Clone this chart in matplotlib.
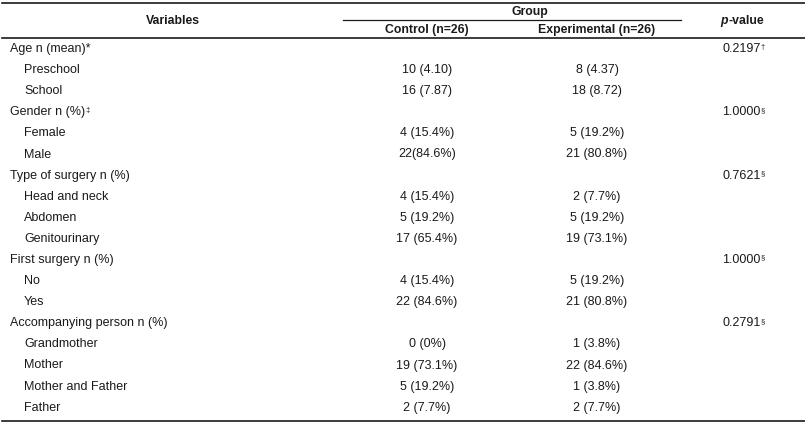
import matplotlib
matplotlib.use("Agg")
from matplotlib import pyplot as plt

plt.rcParams['font.family'] = ['Liberation Sans', 'DejaVu Sans']

# Filas de la tabla
labels = ["Age n (mean)*", "Preschool", "School",
          "Gender n (%)", "Female", "Male",
          "Type of surgery n (%)", "Head and neck", "Abdomen", "Genitourinary",
          "First surgery n (%)", "No", "Yes",
          "Accompanying person n (%)", "Grandmother", "Mother",
          "Mother and Father", "Father"]
label_marks = ["", "", "", "‡", "", "", "", "", "", "", "", "", "", "", "", "", "", ""]
is_sub = [False, True, True, False, True, True, False, True, True, True,
          False, True, True, False, True, True, True, True]
control = ["", "10 (4.10)", "16 (7.87)",
           "", "4 (15.4%)", "22(84.6%)",
           "", "4 (15.4%)", "5 (19.2%)", "17 (65.4%)",
           "", "4 (15.4%)", "22 (84.6%)",
           "", "0 (0%)", "19 (73.1%)", "5 (19.2%)", "2 (7.7%)"]
experimental = ["", "8 (4.37)", "18 (8.72)",
                "", "5 (19.2%)", "21 (80.8%)",
                "", "2 (7.7%)", "5 (19.2%)", "19 (73.1%)",
                "", "5 (19.2%)", "21 (80.8%)",
                "", "1 (3.8%)", "22 (84.6%)", "1 (3.8%)", "2 (7.7%)"]
p_values = ["0.2197", "", "", "1.0000", "", "", "0.7621", "", "", "",
            "1.0000", "", "", "0.2791", "", "", "", ""]
p_marks = ["†", "", "", "§", "", "", "§", "", "", "",
           "§", "", "", "§", "", "", "", ""]

fig = plt.figure(figsize=(8.05, 4.24), dpi=100)
ax = fig.add_axes([0, 0, 1, 1])
ax.set_xlim(0, 805)
ax.set_ylim(424, 0)
ax.axis('off')

col = '#1a1a1a'
fs = 9
fsh = 8.8

# Líneas horizontales
ax.plot([2, 805], [3, 3], color=col, lw=1.2)
ax.plot([343, 681], [20, 20], color=col, lw=0.9)
ax.plot([2, 805], [38, 38], color=col, lw=1.2)
ax.plot([2, 805], [421, 421], color=col, lw=1.2)

# Encabezado
ax.text(173, 21, "Variables", fontsize=fsh, fontweight='bold', ha='center', va='center', color=col)
ax.text(530, 12, "Group", fontsize=fsh, fontweight='bold', ha='center', va='center', color=col)
ax.text(427, 30, "Control (n=26)", fontsize=fsh, fontweight='bold', ha='center', va='center', color=col)
ax.text(597, 30, "Experimental (n=26)", fontsize=fsh, fontweight='bold', ha='center', va='center', color=col)
ph = ax.text(746, 21, "-value", fontsize=fsh, fontweight='bold', ha='center', va='center', color=col)
ax.annotate("p", xy=(0, 0.5), xycoords=ph, ha='right', va='center', fontsize=fsh,
            fontweight='bold', style='italic', color=col)


def sup(t, mark):
    if mark:
        ax.annotate(mark, xy=(1, 0.95), xycoords=t, ha='left', va='top',
                    fontsize=5.5, color=col)


y0 = 49
dy = 21.1
for i, lab in enumerate(labels):
    y = y0 + i * dy
    x = 24 if is_sub[i] else 10
    t = ax.text(x, y, lab, fontsize=fs, ha='left', va='center', color=col)
    sup(t, label_marks[i])
    if control[i]:
        ax.text(427, y, control[i], fontsize=fs, ha='center', va='center', color=col)
    if experimental[i]:
        ax.text(597, y, experimental[i], fontsize=fs, ha='center', va='center', color=col)
    if p_values[i]:
        t = ax.text(722, y, p_values[i], fontsize=fs, ha='left', va='center', color=col)
        sup(t, p_marks[i])

fig.savefig("out.png", dpi=100)
